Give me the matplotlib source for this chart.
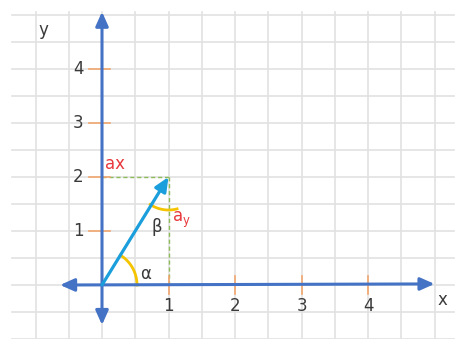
import numpy as np
import matplotlib
matplotlib.use("Agg")
import matplotlib.pyplot as plt
from matplotlib.patches import FancyArrowPatch

# ---- data ----
x_ticks = [1, 2, 3, 4]
y_ticks = [1, 2, 3, 4]
vector_start = (0, 0)
vector_end = (1, 2)
grid_x = [-1, -0.5, 0, 0.5, 1, 1.5, 2, 2.5, 3, 3.5, 4, 4.5, 5]
grid_y = [-1, -0.5, 0, 0.5, 1, 1.5, 2, 2.5, 3, 3.5, 4, 4.5, 5]

# pixel scale of one unit (for drawing circular arcs)
UX, UY = 66.5, 54.0

fig = plt.figure(figsize=(4.61, 3.39), dpi=100)
ax = fig.add_axes([0, 0, 1, 1])
ax.set_xlim(-102 / UX, (461 - 102) / UX)
ax.set_ylim(-54 / UY, 285 / UY)
ax.axis("off")

gcol = "#e2e2e2"
for gy in grid_y:
    ax.plot([-1.35, 5.3], [gy, gy], color=gcol, lw=1.2, zorder=1)
for gx in grid_x:
    ax.plot([gx, gx], [-1.0, 5.05], color=gcol, lw=1.2, zorder=1)

blue = "#4472c4"
style = "<|-|>,head_length=0.85,head_width=0.38"
ax.add_patch(FancyArrowPatch((-0.63, 0), (5.0, 0.02), arrowstyle=style,
                             mutation_scale=10, color=blue, lw=2.2, zorder=4,
                             shrinkA=0, shrinkB=0))
ax.add_patch(FancyArrowPatch((0, -0.74), (0, 5.06), arrowstyle=style,
                             mutation_scale=10, color=blue, lw=2.2, zorder=4,
                             shrinkA=0, shrinkB=0))

# tick marks
tcol = "#f2a66e"
for t in y_ticks:
    ax.plot([-0.2, 0.12], [t, t], color=tcol, lw=1.2, zorder=3)
for t in x_ticks:
    ax.plot([t, t], [-0.17, 0.17], color=tcol, lw=1.2, zorder=3)

txtc = "#3a3a3a"
for t in y_ticks:
    ax.text(-0.36, t, str(t), ha="center", va="center", fontsize=12, color=txtc)
for t in x_ticks:
    ax.text(t, -0.38, str(t), ha="center", va="center", fontsize=12, color=txtc)
ax.text(5.12, -0.28, "x", ha="center", va="center", fontsize=12, color=txtc)
ax.text(-0.88, 4.72, "y", ha="center", va="center", fontsize=12, color=txtc)

# dashed projections
green = "#8fbc5a"
ax.plot([0, vector_end[0]], [vector_end[1], vector_end[1]], color=green,
        lw=1.0, ls=(0, (3, 2)), zorder=2)
ax.plot([vector_end[0], vector_end[0]], [0, vector_end[1]], color=green,
        lw=1.0, ls=(0, (3, 2)), zorder=2)

# vector
ax.add_patch(FancyArrowPatch(vector_start, vector_end,
                             arrowstyle="-|>,head_length=0.85,head_width=0.38",
                             mutation_scale=10, color="#1a9fdc", lw=2.3,
                             zorder=5, shrinkA=0, shrinkB=0))

# angle arcs (circular in pixel space)
yellow = "#f5c400"
ang = np.degrees(np.arctan2(vector_end[1] * UY, vector_end[0] * UX))
t = np.radians(np.linspace(0, ang, 40))
r = 35
ax.plot(r * np.cos(t) / UX, r * np.sin(t) / UY, color=yellow, lw=2, zorder=3)
t = np.radians(np.linspace(180 + ang - 2, 285, 40))
r = 33
ax.plot(vector_end[0] + r * np.cos(t) / UX, vector_end[1] + r * np.sin(t) / UY,
        color=yellow, lw=2, zorder=3)

ax.text(0.65, 0.2, "α", ha="center", va="center", fontsize=12, color=txtc)
ax.text(0.83, 1.07, "β", ha="center", va="center", fontsize=12, color=txtc)

red = "#e8383d"
ax.text(0.05, 2.24, "ax", ha="left", va="center", fontsize=12, color=red)
ax.text(1.05, 1.2, r"a$_\mathregular{y}$", ha="left", va="center", fontsize=12,
        color=red)

fig.savefig("out.png", dpi=100)
